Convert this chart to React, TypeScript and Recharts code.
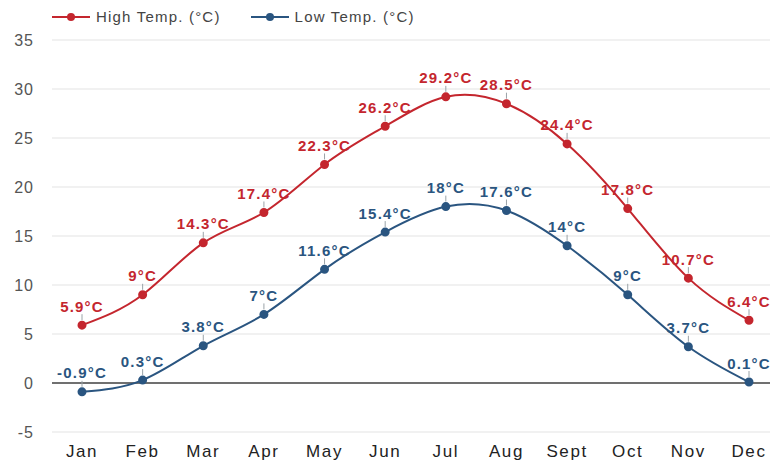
import React from 'react';
import {
  LineChart,
  Line,
  XAxis,
  YAxis,
  CartesianGrid,
  ReferenceLine,
  LabelList,
} from 'recharts';

const months = ['Jan', 'Feb', 'Mar', 'Apr', 'May', 'Jun', 'Jul', 'Aug', 'Sept', 'Oct', 'Nov', 'Dec'];
const highTemps = [5.9, 9, 14.3, 17.4, 22.3, 26.2, 29.2, 28.5, 24.4, 17.8, 10.7, 6.4];
const lowTemps = [-0.9, 0.3, 3.8, 7, 11.6, 15.4, 18, 17.6, 14, 9, 3.7, 0.1];
const yTicks = [-5, 0, 5, 10, 15, 20, 25, 30, 35];

const RED = '#c4262e';
const BLUE = '#2a5580';
const FONT = '"Liberation Sans", Arial, Helvetica, sans-serif';

const data = months.map((m, i) => ({ month: m, high: highTemps[i], low: lowTemps[i] }));

const series = [
  { key: 'high', name: 'High Temp. (°C)', color: RED },
  { key: 'low', name: 'Low Temp. (°C)', color: BLUE },
];

// value label with a short leader line down to the point
const makeLabel = (color: string) => (props: any) => {
  const { x, y, value } = props;
  if (x == null || y == null) return null;
  return (
    <g>
      <line x1={x} x2={x} y1={y - 5} y2={y - 11} stroke="#9aa3a8" strokeWidth={1} />
      <text
        x={x}
        y={y - 19}
        textAnchor="middle"
        dominantBaseline="central"
        fill={color}
        fontFamily={FONT}
        fontWeight="bold"
        fontSize={15}
        letterSpacing={1.2}
      >
        {`${value}°C`}
      </text>
    </g>
  );
};

// legend sits above the plot without pushing it down
const TopLegend = () => (
  <div
    style={{
      position: 'absolute',
      top: 8,
      left: 52,
      display: 'flex',
      gap: 30,
      fontFamily: FONT,
      fontSize: 15,
      color: '#444',
      letterSpacing: 1.2,
      whiteSpace: 'nowrap',
    }}
  >
    {series.map((s) => (
      <div key={s.key} style={{ display: 'flex', alignItems: 'center' }}>
        <svg width={38} height={10} style={{ marginRight: 6 }}>
          <line x1={0} x2={38} y1={5} y2={5} stroke={s.color} strokeWidth={2} />
          <circle cx={19} cy={5} r={4} fill={s.color} />
        </svg>
        <span>{s.name}</span>
      </div>
    ))}
  </div>
);

export default function App() {
  return (
    <div style={{ position: 'absolute', left: 0, top: 0, width: 770, height: 466, background: '#fff' }}>
      <LineChart width={770} height={466} data={data} margin={{ top: 40, right: 0, left: 0, bottom: 0 }}>
        <CartesianGrid vertical={false} stroke="#e3e3e3" />
        <XAxis
          dataKey="month"
          axisLine={false}
          tickLine={false}
          tickSize={0}
          tickMargin={13}
          height={34}
          padding={{ left: 30, right: 21 }}
          interval={0}
          tick={{ fill: '#222', fontSize: 17, fontFamily: FONT, letterSpacing: 1.6 }}
        />
        <YAxis
          domain={[-5, 35]}
          ticks={yTicks}
          axisLine={false}
          tickLine={false}
          tickSize={0}
          tickMargin={18}
          width={52}
          tick={{ fill: '#555', fontSize: 16, fontFamily: FONT, letterSpacing: 1 }}
        />
        <ReferenceLine y={0} stroke="#444" strokeWidth={1.5} />
        {series.map((s) => (
          <Line
            key={s.key}
            type="natural"
            dataKey={s.key}
            name={s.name}
            stroke={s.color}
            strokeWidth={2}
            dot={{ r: 3.5, fill: s.color, stroke: s.color }}
            isAnimationActive={false}
          >
            <LabelList dataKey={s.key} content={makeLabel(s.color)} />
          </Line>
        ))}
      </LineChart>
      <TopLegend />
    </div>
  );
}
